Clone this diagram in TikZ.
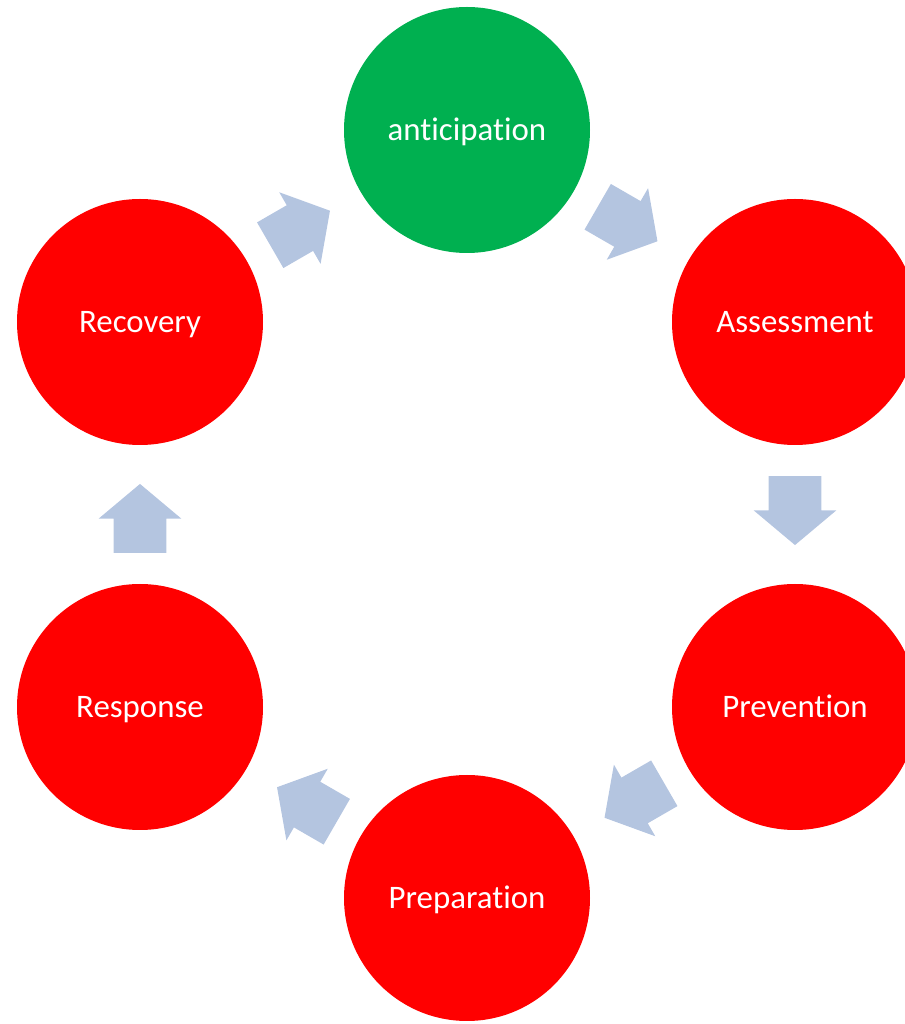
\documentclass[tikz,border=0pt]{standalone}
\usepackage{fontspec}
\setmainfont[Ligatures=NoCommon]{Carlito}
\usetikzlibrary{shapes.arrows,calc}
\definecolor{phasegreen}{HTML}{00B050}
\definecolor{phasered}{HTML}{FF0000}
\definecolor{arrowblue}{HTML}{B4C5E0}
\tikzset{
    phase/.style={circle, minimum size=4.92cm, inner sep=0pt, text=white,
        text height=12pt, text depth=0pt,
        font=\fontsize{18.7}{22}\selectfont},
    cyclearrow/.style={single arrow, fill=arrowblue, draw=none,
        single arrow head extend=0.3cm, single arrow tip angle=100,
        minimum height=1.38cm, inner xsep=0pt, inner ysep=0.52cm}
}
\begin{document}
\begin{tikzpicture}
            \useasboundingbox (0,0) rectangle (18.1,20.48);
            \begin{scope}
                \node[name=anticipation, phase, fill=phasegreen] at (9.34,17.88) (anticipation) {anticipation};
                \node[name=assessment, phase, fill=phasered] at (15.9,14.04) (assessment) {Assessment};
                \node[name=prevention, phase, fill=phasered] at (15.9,6.34) (prevention) {Prevention};
                \node[name=preparation, phase, fill=phasered] at (9.34,2.52) (preparation) {Preparation};
                \node[name=response, phase, fill=phasered] at (2.8,6.34) (response) {Response};
                \node[name=recovery, phase, fill=phasered] at (2.8,14.04) (recovery) {Recovery};
                \node[name=a1, cyclearrow, rotate=30] at ($(recovery)!0.5!(anticipation)+(210:0.3)$) (a1) {};
                \node[name=a2, cyclearrow, rotate=-30] at ($(anticipation)!0.5!(assessment)+(150:0.3)$) (a2) {};
                \node[name=a3, cyclearrow, rotate=-90] at ($(assessment)!0.5!(prevention)+(90:0.3)$) (a3) {};
                \node[name=a4, cyclearrow, rotate=-150] at ($(prevention)!0.5!(preparation)+(30:0.3)$) (a4) {};
                \node[name=a5, cyclearrow, rotate=150] at ($(preparation)!0.5!(response)+(-30:0.3)$) (a5) {};
                \node[name=a6, cyclearrow, rotate=90] at ($(response)!0.5!(recovery)+(-90:0.3)$) (a6) {};

            \end{scope}
        \end{tikzpicture}
\end{document}
